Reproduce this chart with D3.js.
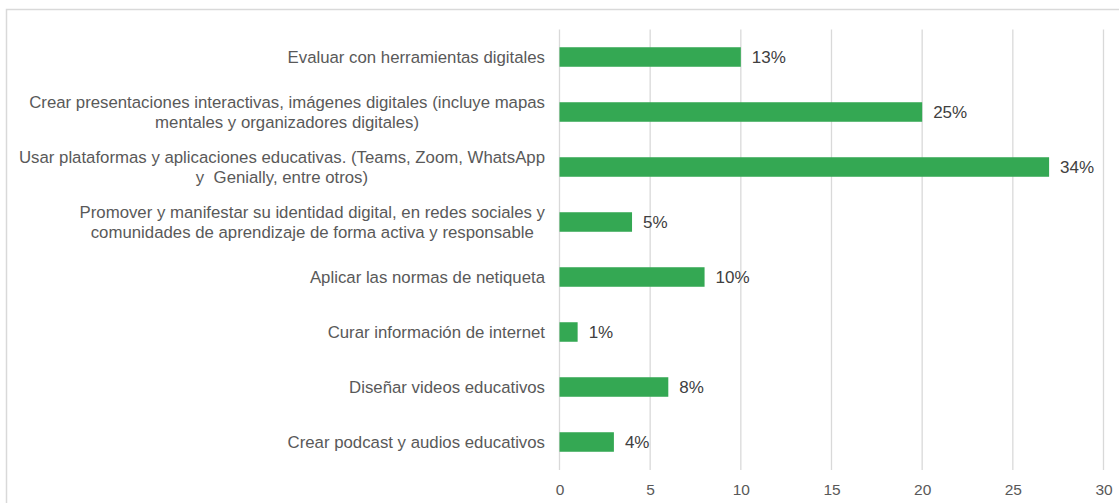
<!DOCTYPE html>
<html>
<head>
<meta charset="utf-8">
<script src="https://cdn.jsdelivr.net/npm/d3@7"></script>
<style>
  body { margin: 0; background: white; }
  text { font-family: "Liberation Sans", Arial, sans-serif; }
</style>
</head>
<body>
<div class="chart"></div>
<script>
var categories = [
    ["Evaluar con herramientas digitales"],
    ["Crear presentaciones interactivas, imágenes digitales (incluye mapas", "mentales y organizadores digitales)"],
    ["Usar plataformas y aplicaciones educativas. (Teams, Zoom, WhatsApp", "y  Genially, entre otros)"],
    ["Promover y manifestar su identidad digital, en redes sociales y", "comunidades de aprendizaje de forma activa y responsable"],
    ["Aplicar las normas de netiqueta"],
    ["Curar información de internet"],
    ["Diseñar videos educativos"],
    ["Crear podcast y audios educativos"]
]
var values = [10, 20, 27, 4, 8, 1, 6, 3]
var valueLabels = ["13%", "25%", "34%", "5%", "10%", "1%", "8%", "4%"]
var xTicks = [0, 5, 10, 15, 20, 25, 30]

var width = 1119, height = 503

var svg = d3.select(".chart")
    .append("svg")
    .attr("width", width)
    .attr("height", height)

// outer frame (only top and left edges are visible in the picture)
svg.append("path")
    .attr("d", "M6.5," + height + "V9.5H" + width)
    .attr("fill", "none")
    .attr("stroke", "#d9d9d9")
    .attr("stroke-width", 1.5)

var x = d3.scaleLinear()
    .domain([0, 30])
    .range([559.5, 1103.5])

var y = d3.scaleBand()
    .domain(d3.range(categories.length))
    .range([29.5, 469.5])
    .paddingInner(0.645)
    .paddingOuter(0.3225)

// grid lines
svg.selectAll(".grid")
    .data(xTicks)
    .enter().append("line")
    .attr("class", "grid")
    .attr("x1", function(d) { return x(d) })
    .attr("x2", function(d) { return x(d) })
    .attr("y1", 29.5)
    .attr("y2", 470)
    .attr("stroke", "#d9d9d9")
    .attr("stroke-width", 1.3)

// x axis labels
var xAxis = svg.append("g")
    .attr("transform", "translate(0,470)")
    .call(d3.axisBottom(x).tickValues(xTicks).tickSize(0).tickPadding(14))
xAxis.select(".domain").remove()
xAxis.selectAll("text")
    .style("font-size", "15.5px")
    .attr("fill", "#595959")
    .style("font-family", "'Liberation Sans', Arial, sans-serif")

// bars
svg.selectAll(".bar")
    .data(values)
    .enter().append("rect")
    .attr("class", "bar")
    .attr("x", x(0))
    .attr("y", function(d, i) { return y(i) })
    .attr("width", function(d) { return x(d) - x(0) })
    .attr("height", y.bandwidth())
    .attr("fill", "#34a853")

// value labels
svg.selectAll(".valueLabel")
    .data(values)
    .enter().append("text")
    .attr("class", "valueLabel")
    .attr("x", function(d) { return x(d) + 11 })
    .attr("y", function(d, i) { return y(i) + y.bandwidth() / 2 })
    .attr("dy", "0.36em")
    .text(function(d, i) { return valueLabels[i] })
    .attr("fill", "#404040")
    .style("font-size", "17px")

// category labels, right aligned, wrapped lines centered on the block
var labelRight = 545
var catLabel = svg.selectAll(".catLabel")
    .data(categories)
    .enter().append("g")
    .attr("class", "catLabel")
    .each(function(lines, i) {
        var g = d3.select(this)
        var cy = y(i) + y.bandwidth() / 2
        var lineH = 19.5
        var top = cy - (lines.length - 1) * lineH / 2
        var texts = lines.map(function(line, j) {
            return g.append("text")
                .attr("y", top + j * lineH)
                .attr("dy", "0.36em")
                .attr("text-anchor", "middle")
                .attr("fill", "#595959")
                .style("font-size", "16.8px")
                .style("white-space", "pre")
                .text(line)
        })
        var maxW = d3.max(texts, function(t) { return t.node().getComputedTextLength() })
        texts.forEach(function(t) { t.attr("x", labelRight - maxW / 2) })
    })
</script>
</body>
</html>
